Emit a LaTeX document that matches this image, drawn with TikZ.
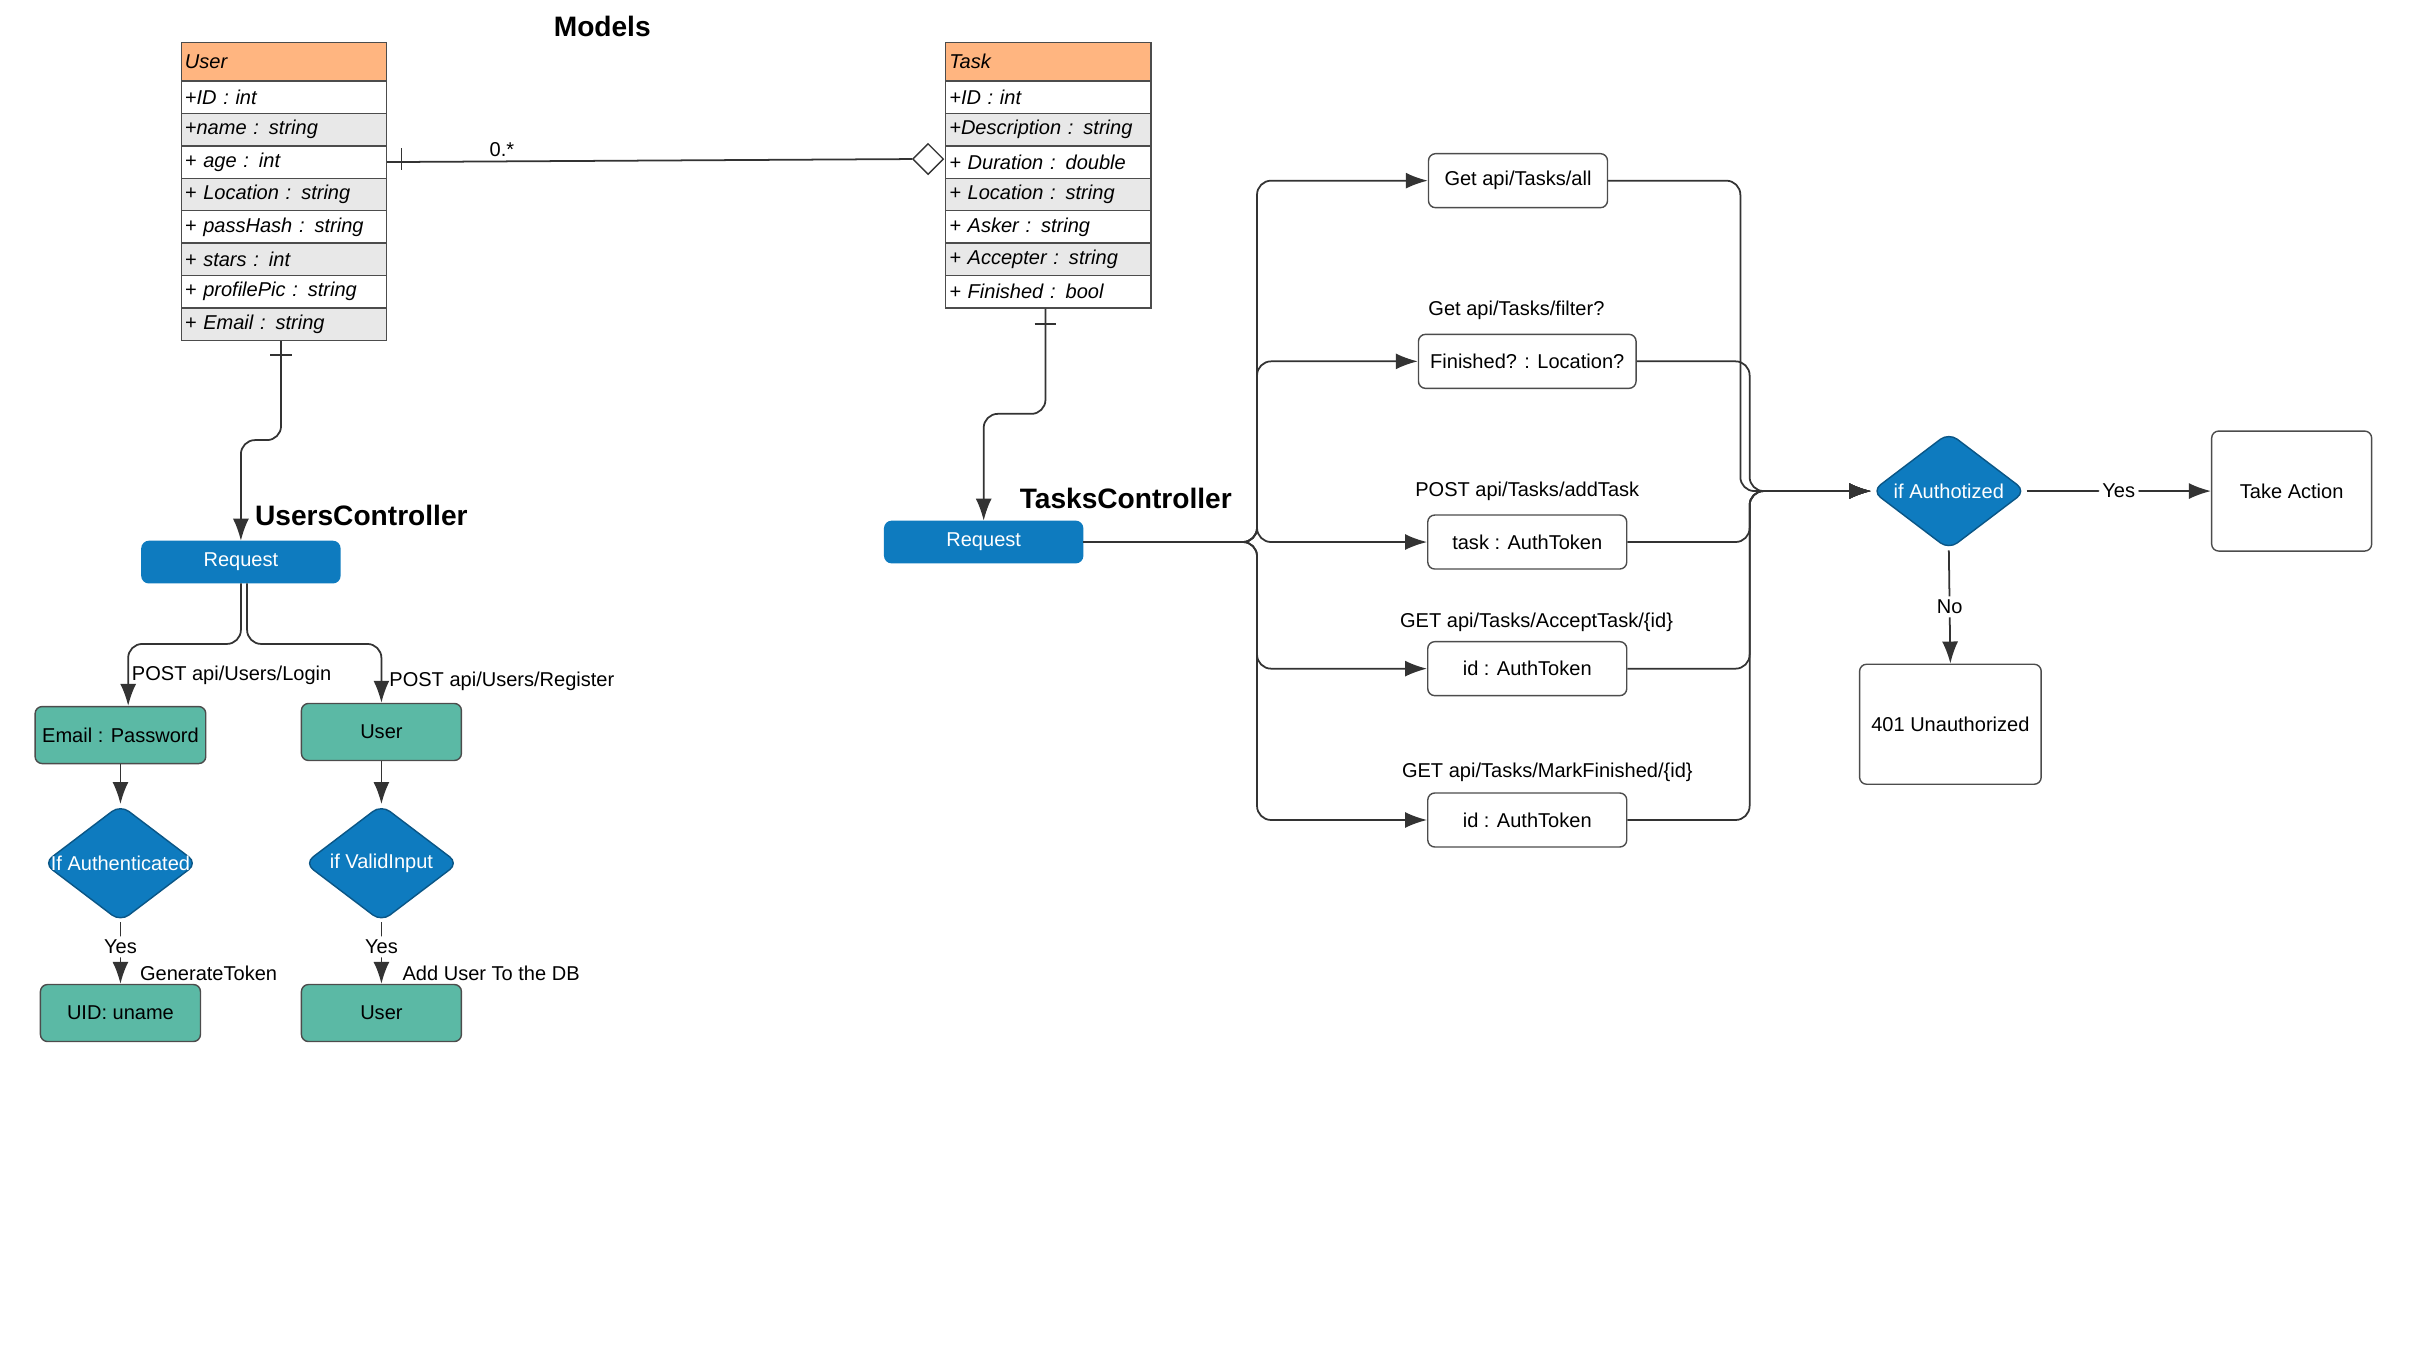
\documentclass[tikz,border=0pt]{standalone}
\usepackage{fontspec}
\setmainfont{Liberation Sans}
\usetikzlibrary{arrows.meta,shapes.geometric,positioning}
\definecolor{hdr}{HTML}{FFB580}
\definecolor{rowg}{HTML}{E8E8E8}
\definecolor{reqb}{HTML}{0E7BBF}
\definecolor{teal}{HTML}{5BB9A5}
\newcommand\dfont{\fontsize{5.7}{7}\selectfont}

\tikzset{
  cls/.style={draw=black!70, anchor=north west, minimum width=2.007cm, minimum height=0.324cm,
              inner xsep=1pt, inner ysep=0pt, text width=1.98cm, align=left, font=\dfont\itshape},
  clshead/.style={cls, fill=hdr, minimum height=0.386cm},
  req/.style={draw=reqb, fill=reqb, text=white, rounded corners=2pt, minimum width=1.98cm, minimum height=0.39cm},
  act/.style={draw=black!70, fill=teal, rounded corners=2pt, minimum width=1.6cm, minimum height=0.57cm, inner xsep=2pt},
  ep/.style={draw=black!70, fill=white, rounded corners=2pt, minimum height=0.54cm},
  dia/.style={draw=reqb!70!black, fill=reqb, diamond, inner sep=0pt, minimum width=1.54cm, minimum height=1.17cm, rounded corners=3pt},
  lbl/.style={inner sep=1pt},
  ttl/.style={font=\bfseries\fontsize{8}{10}\selectfont},
  conn/.style={draw=black!80, line width=0.5pt, rounded corners=4pt},
  arr/.style={conn, -{Latex[length=2.2mm,width=1.6mm]}}
}

\begin{document}
\begin{tikzpicture}[x=0.01544cm, y=-0.01544cm, font=\dfont]
\useasboundingbox (0,0) rectangle (1560,879.4);

% Models
\node[ttl] (models) at (390,17) {Models};

\node[clshead] (user) at (117,27) {User};
\foreach \t/\c [count=\i] in {+ID : int/white, +name : string/rowg, + age : int/white,
    + Location : string/rowg, + passHash : string/white, + stars : int/rowg,
    + profilePic : string/white, + Email : string/rowg}
  \node[cls, fill=\c] (user\i) at (117,{52+21*(\i-1)}) {\t};

\node[clshead] (task) at (612,27) {Task};
\foreach \t/\c [count=\i] in {+ID : int/white, +Description : string/rowg, + Duration : double/white,
    + Location : string/rowg, + Asker : string/white, + Accepter : string/rowg,
    + Finished : bool/white}
  \node[cls, fill=\c] (task\i) at (612,{52+21*(\i-1)}) {\t};

% association
\node[draw=black!80, fill=white, diamond, inner sep=0pt, minimum width=0.31cm, minimum height=0.31cm] (agg) at (601,103) {};
\draw[conn] (user3.east) -- (agg.west);
\draw[conn] (260,96) -- (260,110);
\node[lbl] (mult) at (325,97) {0.*};

% Users controller
\node[ttl] (uctl) at (234,334) {UsersController};
\node[req] (ureq) at (156,364) {Request};
\draw[arr] (user8.south -| 182,0) |- (156,285) -- (ureq.north);
\draw[conn] (175,230) -- (189,230);

\node[act] (login) at (78,476) {Email : Password};
\node[act] (reg) at (247,474) {User};
\draw[arr] (ureq.south -| 156,0) |- (83,417) -- (login.north -| 83,0);
\draw[arr] (ureq.south -| 160,0) |- (247,417) -- (reg.north);
\node[lbl] (llogin) at (150,437) {POST api/Users/Login};
\node[lbl] (lreg) at (325,441) {POST api/Users/Register};

\node[dia] (auth) at (78,559) {};
\node[text=white] (autht) at (auth) {If Authenticated};
\node[dia] (valid) at (247,559) {};
\node[text=white] (validt) at (valid) {if ValidInput};
\draw[arr] (login) -- (auth.north);
\draw[arr] (reg) -- (valid.north);

\node[act] (uid) at (78,656) {UID: uname};
\node[act] (uadd) at (247,656) {User};
\draw[arr] (auth.south) -- node[lbl, fill=white, pos=0.4] (y1) {Yes} (uid.north);
\draw[arr] (valid.south) -- node[lbl, fill=white, pos=0.4] (y2) {Yes} (uadd.north);
\node[lbl, anchor=west] (gen) at (88,630) {GenerateToken};
\node[lbl, anchor=west] (adddb) at (258,630) {Add User To the DB};

% Tasks controller
\node[ttl] (tctl) at (729,323) {TasksController};
\node[req] (treq) at (637,351) {Request};
\draw[arr] (task7.south -| 677,0) |- (637,268) -- (treq.north);
\draw[conn] (670,210) -- (684,210);

\node[ep, minimum width=1.79cm] (all) at (983,117) {Get api/Tasks/all};
\node[ep, minimum width=1.99cm] (filt) at (989,234) {Finished? : Location?};
\node[ep, minimum width=1.99cm] (add) at (989,351) {task : AuthToken};
\node[ep, minimum width=1.99cm] (acc) at (989,433) {id : AuthToken};
\node[ep, minimum width=1.99cm] (mark) at (989,531) {id : AuthToken};
\node[lbl] (lfilt) at (982,201) {Get api/Tasks/filter?};
\node[lbl] (ladd) at (989,318) {POST api/Tasks/addTask};
\node[lbl] (lacc) at (995,403) {GET api/Tasks/AcceptTask/\{id\}};
\node[lbl] (lmark) at (1002,500) {GET api/Tasks/MarkFinished/\{id\}};

\foreach \e in {all,filt,add,acc,mark}
  \draw[arr] (treq.east) -| (814,0 |- \e.west) -- (\e.west);

\node[dia] (authz) at (1262,318) {};
\node[text=white] (authzt) at (authz) {if Authotized};
\draw[arr] (all.east) -| (1127,318) -- (authz.west);
\foreach \e in {filt,add,acc,mark}
  \draw[arr] (\e.east) -| (1133,318) -- (authz.west);

\node[draw=black!70, rounded corners=2pt, minimum width=1.6cm, minimum height=1.2cm] (take) at (1484,318) {Take Action};
\node[draw=black!70, rounded corners=2pt, minimum width=1.6cm, minimum height=1.2cm] (unauth) at (1263,469) {401 Unauthorized};
\draw[arr] (authz.east) -- node[lbl, fill=white, pos=0.5] (yes) {Yes} (take.west);
\draw[arr] (authz.south) -- node[lbl, fill=white, pos=0.5] (no) {No} (unauth.north);
\end{tikzpicture}
\end{document}
